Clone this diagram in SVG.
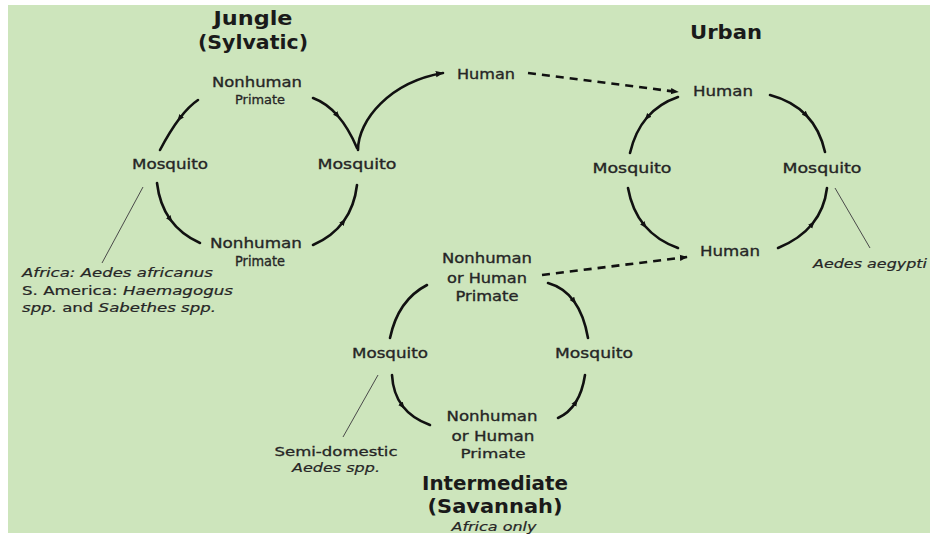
<svg xmlns="http://www.w3.org/2000/svg" width="930" height="543" viewBox="0 0 930 543">
<style>
text{font-family:"DejaVu Sans","Liberation Sans",sans-serif;fill:#262626;}
.t{font-weight:bold;font-size:19px;fill:#1a1a1a;text-anchor:middle;}
.n{font-size:14.5px;text-anchor:middle;stroke:#262626;stroke-width:0.35;}
.s{font-size:12.5px;text-anchor:middle;stroke:#262626;stroke-width:0.3;}
.a{font-size:12.5px;font-style:italic;stroke:#262626;stroke-width:0.2;}
.arc{fill:none;stroke:#111;stroke-width:2.6;stroke-linecap:round;marker-mid:url(#mid);}
.arc0{fill:none;stroke:#111;stroke-width:2.6;stroke-linecap:round;}
.dash{fill:none;stroke:#111;stroke-width:2.6;stroke-dasharray:8 6;marker-end:url(#end);}
.ann{fill:none;stroke:#4a4a4a;stroke-width:1;}
</style>
<defs>
<marker id="mid" viewBox="0 0 10 10" refX="5" refY="5" markerWidth="7" markerHeight="7" markerUnits="userSpaceOnUse" orient="auto"><path d="M0,1 L10,5 L0,9 z" fill="#111"/></marker>
<marker id="end" viewBox="0 0 10 10" refX="9" refY="5" markerWidth="8" markerHeight="8" markerUnits="userSpaceOnUse" orient="auto"><path d="M0,1 L10,5 L0,9 z" fill="#111"/></marker>
</defs>
<rect x="0" y="0" width="930" height="543" fill="#ffffff"/>
<rect x="8" y="5" width="922" height="528" fill="#cde5bc"/>

<g id="connectors">
<path class="arc" d="M198,100 Q189,106 179.5,118.5 Q170,131 160,150"/>
<path class="arc" d="M157,183 Q159.5,204.5 170.25,219.5 Q181,234.5 200,243"/>
<path class="arc" d="M313,245 Q332.5,236.5 343.5,221.5 Q354.5,206.5 357,185"/>
<path class="arc" d="M313,98 Q326.5,103 337.5,115.5 Q348.5,128 357,148"/>
<path class="arc0" d="M358,150 C358,120 390,82 443,73" marker-end="url(#end)"/>
<path class="dash" d="M528,73 L678,92"/>
<path class="arc" d="M678,97 Q659,103.5 647,117.5 Q635,131.5 630,153"/>
<path class="arc" d="M628,188 Q632,210.5 644.5,225.5 Q657,240.5 678,248"/>
<path class="arc" d="M770,95 Q792.5,101 806.25,115.25 Q820,129.5 825,152"/>
<path class="arc" d="M778,248 Q800,239 812.25,224 Q824.5,209 827,188"/>
<path class="arc0" d="M427,285 Q398,300 390,338"/>
<path class="arc" d="M548,283 Q564,287.5 574,301.25 Q584,315 588,338"/>
<path class="arc" d="M392,375 Q393,393.5 402.5,406 Q412,418.5 430,425"/>
<path class="arc" d="M558,418 Q569,413 575.75,402.25 Q582.5,391.5 585,375"/>
<path class="dash" d="M542,275 L687,257"/>
<path class="ann" d="M143,187 L102,263"/>
<path class="ann" d="M835,188 L870,248"/>
<path class="ann" d="M378,375 L343,437"/>
</g>

<g id="jungle-title">
<text class="t" x="253" y="25" textLength="79" lengthAdjust="spacingAndGlyphs">Jungle</text>
<text class="t" x="253" y="49" textLength="110" lengthAdjust="spacingAndGlyphs">(Sylvatic)</text>
</g>
<g id="jungle-primate-top">
<text class="n" x="257" y="87" textLength="90" lengthAdjust="spacingAndGlyphs">Nonhuman</text>
<text class="s" x="260" y="104" textLength="50" lengthAdjust="spacingAndGlyphs">Primate</text>
</g>
<g id="jungle-mosquito-left"><text class="n" x="170" y="169" textLength="76" lengthAdjust="spacingAndGlyphs">Mosquito</text></g>
<g id="jungle-mosquito-right"><text class="n" x="357" y="169" textLength="79" lengthAdjust="spacingAndGlyphs">Mosquito</text></g>
<g id="jungle-primate-bottom">
<text class="n" x="256" y="248" textLength="92" lengthAdjust="spacingAndGlyphs">Nonhuman</text>
<text class="n" x="260" y="266" textLength="50" lengthAdjust="spacingAndGlyphs">Primate</text>
</g>
<g id="jungle-vectors">
<text class="a" x="22" y="277" textLength="191" lengthAdjust="spacingAndGlyphs">Africa: Aedes africanus</text>
<text class="a" x="22" y="295" textLength="211" lengthAdjust="spacingAndGlyphs"><tspan font-style="normal">S. America: </tspan>Haemagogus</text>
<text class="a" x="22" y="312" textLength="194" lengthAdjust="spacingAndGlyphs">spp.<tspan font-style="normal"> and </tspan>Sabethes spp.</text>
</g>
<g id="human-middle"><text class="n" x="486" y="79" textLength="58" lengthAdjust="spacingAndGlyphs">Human</text></g>

<g id="urban-title"><text class="t" x="726" y="39" textLength="72" lengthAdjust="spacingAndGlyphs">Urban</text></g>
<g id="urban-human-top"><text class="n" x="723" y="96" textLength="60" lengthAdjust="spacingAndGlyphs">Human</text></g>
<g id="urban-mosquito-left"><text class="n" x="632" y="173" textLength="79" lengthAdjust="spacingAndGlyphs">Mosquito</text></g>
<g id="urban-mosquito-right"><text class="n" x="822" y="173" textLength="79" lengthAdjust="spacingAndGlyphs">Mosquito</text></g>
<g id="urban-human-bottom"><text class="n" x="730" y="256" textLength="60" lengthAdjust="spacingAndGlyphs">Human</text></g>
<g id="urban-vector"><text class="a" x="813" y="268" textLength="114" lengthAdjust="spacingAndGlyphs">Aedes aegypti</text></g>

<g id="inter-primate-top">
<text class="n" x="487" y="263" textLength="90" lengthAdjust="spacingAndGlyphs">Nonhuman</text>
<text class="n" x="487" y="283" textLength="80" lengthAdjust="spacingAndGlyphs">or Human</text>
<text class="n" x="487" y="301" textLength="63" lengthAdjust="spacingAndGlyphs">Primate</text>
</g>
<g id="inter-mosquito-left"><text class="n" x="390" y="358" textLength="76" lengthAdjust="spacingAndGlyphs">Mosquito</text></g>
<g id="inter-mosquito-right"><text class="n" x="594" y="358" textLength="78" lengthAdjust="spacingAndGlyphs">Mosquito</text></g>
<g id="inter-primate-bottom">
<text class="n" x="492" y="421" textLength="91" lengthAdjust="spacingAndGlyphs">Nonhuman</text>
<text class="n" x="493" y="441" textLength="83" lengthAdjust="spacingAndGlyphs">or Human</text>
<text class="s" x="493" y="458" textLength="65" lengthAdjust="spacingAndGlyphs">Primate</text>
</g>
<g id="inter-vector">
<text class="s" x="336" y="456" textLength="123" lengthAdjust="spacingAndGlyphs">Semi-domestic</text>
<text class="a" x="336" y="472" text-anchor="middle" textLength="88" lengthAdjust="spacingAndGlyphs">Aedes spp.</text>
</g>
<g id="inter-title">
<text class="t" x="495" y="490" textLength="146" lengthAdjust="spacingAndGlyphs">Intermediate</text>
<text class="t" x="495" y="513" textLength="135" lengthAdjust="spacingAndGlyphs">(Savannah)</text>
<text class="a" x="494" y="531" text-anchor="middle" textLength="85" lengthAdjust="spacingAndGlyphs">Africa only</text>
</g>
</svg>
